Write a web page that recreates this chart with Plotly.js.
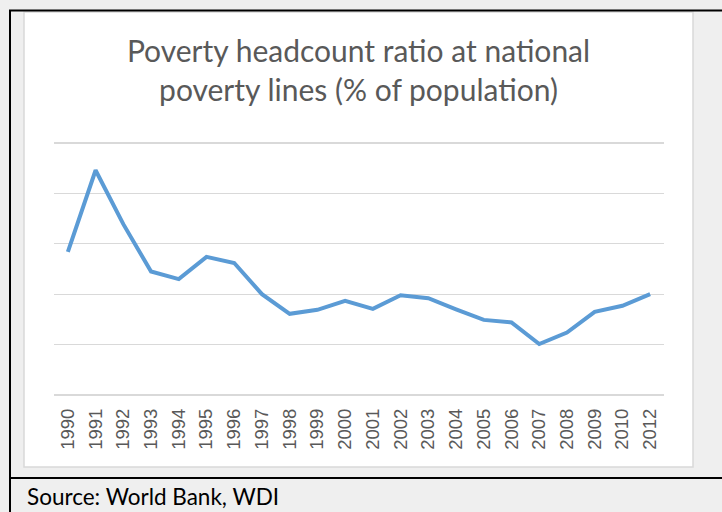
<!DOCTYPE html>
<html>
<head>
<meta charset="utf-8">
<script src="https://cdn.plot.ly/plotly-3.0.1.min.js"></script>
<style>
  html, body { margin: 0; padding: 0; background: #efefef; }
  #chart { width: 722px; height: 512px; }
</style>
</head>
<body>
<div id="chart"></div>
<script>
// Data
const years = ["1990","1991","1992","1993","1994","1995","1996","1997","1998","1999","2000",
               "2001","2002","2003","2004","2005","2006","2007","2008","2009","2010","2012"];
const povertyRatio = [28.4, 44.6, 33.9, 24.5, 23.0, 27.4, 26.2, 20.0, 16.1, 16.9, 18.7,
                      17.1, 19.8, 19.2, 17.0, 14.9, 14.4, 10.1, 12.4, 16.5, 17.7, 20.0];
const chartTitle = "Poverty headcount ratio at national<br>poverty lines (% of population)";
const sourceText = "Source: World Bank, WDI";

// Layout geometry (pixels)
const W = 722, H = 512;
const yMin = -1, yMax = 51;
const pxPerUnit = 5.04;
const plotL = 54, plotR = 664;
const plotT = 143 - (yMax - 50) * pxPerUnit, plotB = 395 + (0 - yMin) * pxPerUnit;
const px2x = p => (p - plotL) / (plotR - plotL);
const px2y = p => (plotB - p) / (plotB - plotT);

const shapes = [
  // white chart area with light border
  {type: 'rect', xref: 'paper', yref: 'paper', layer: 'below',
   x0: px2x(24), x1: px2x(693), y0: px2y(467), y1: px2y(12),
   fillcolor: '#ffffff', line: {color: '#d9d9d9', width: 1.5}},
  // black cell borders
  {type: 'line', xref: 'paper', yref: 'paper',
   x0: px2x(9), x1: px2x(722), y0: px2y(10.5), y1: px2y(10.5),
   line: {color: '#000000', width: 2}},
  {type: 'line', xref: 'paper', yref: 'paper',
   x0: px2x(10), x1: px2x(10), y0: px2y(10), y1: px2y(512),
   line: {color: '#000000', width: 2}},
  {type: 'line', xref: 'paper', yref: 'paper',
   x0: px2x(10), x1: px2x(722), y0: px2y(478), y1: px2y(478),
   line: {color: '#000000', width: 2}}
];

const trace = {
  type: 'scatter', mode: 'lines',
  x: years, y: povertyRatio,
  line: {color: '#5b9bd5', width: 4},
  hoverinfo: 'x+y'
};

const layout = {
  width: W, height: H,
  paper_bgcolor: '#efefef',
  plot_bgcolor: 'rgba(0,0,0,0)',
  margin: {l: plotL, r: W - plotR, t: plotT, b: H - plotB, pad: 0},
  showlegend: false,
  title: {
    text: chartTitle,
    font: {family: 'Lato, "Open Sans", sans-serif', size: 30, color: '#595959'},
    xref: 'paper', x: px2x(358.5), xanchor: 'center',
    yref: 'container', y: 1 - 62 / H, yanchor: 'top'
  },
  xaxis: {
    type: 'category',
    range: [-0.5, years.length - 0.5],
    tickangle: -90,
    ticks: '', showline: false, showgrid: false, zeroline: false,
    ticklabelstandoff: 4,
    tickfont: {family: '"Liberation Sans", Arial, sans-serif', size: 18.5, color: '#595959'},
    fixedrange: true
  },
  yaxis: {
    range: [yMin, yMax], dtick: 10, tick0: 0,
    showticklabels: false, ticks: '',
    showgrid: true, gridcolor: '#d9d9d9', gridwidth: 1.3,
    zeroline: true, zerolinecolor: '#d9d9d9', zerolinewidth: 1.3,
    showline: false, fixedrange: true
  },
  shapes: shapes,
  annotations: [{
    text: sourceText, showarrow: false,
    xref: 'paper', yref: 'paper',
    x: px2x(25), xanchor: 'left',
    y: px2y(497), yanchor: 'middle',
    font: {family: 'Lato, "Open Sans", sans-serif', size: 22.5, color: '#000000'}
  }]
};

Plotly.newPlot('chart', [trace], layout, {displayModeBar: false, staticPlot: true});
</script>
</body>
</html>
